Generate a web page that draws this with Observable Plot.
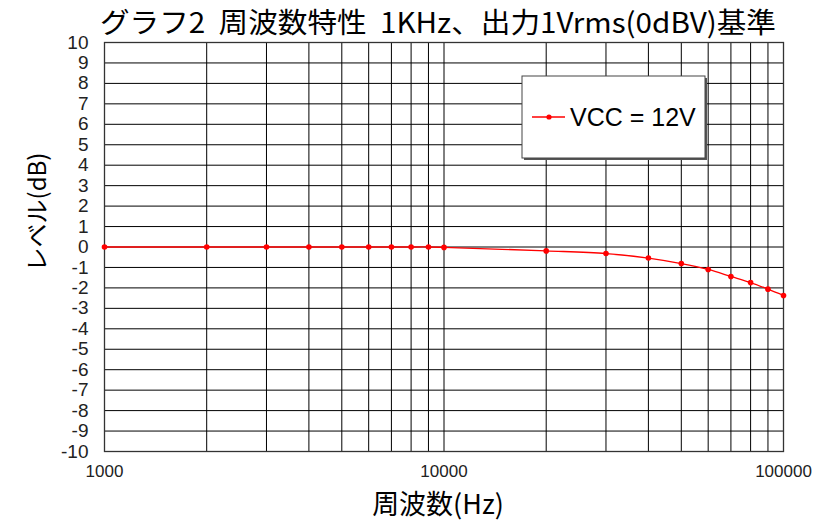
<!DOCTYPE html>
<html>
<head>
<meta charset="utf-8">
<script src="https://cdn.jsdelivr.net/npm/d3@7"></script>
<script src="https://cdn.jsdelivr.net/npm/@observablehq/plot@0.6"></script>
<style>
  html, body { margin: 0; padding: 0; background: #fff; }
  #chart { width: 819px; height: 521px; }
</style>
</head>
<body>
<div id="chart"></div>
<script>
// ---- data ----
const title = "グラフ2  周波数特性  1KHz、出力1Vrms(0dBV)基準";
const xLabel = "周波数(Hz)";
const yLabel = "レベル(dB)";
const seriesName = "VCC = 12V";
const freqs  = [1000, 2000, 3000, 4000, 5000, 6000, 7000, 8000, 9000, 10000, 20000, 30000, 40000, 50000, 60000, 70000, 80000, 90000, 100000];
const levels = [0, 0, 0, 0, 0, 0, 0, 0, 0, -0.02, -0.19, -0.32, -0.54, -0.81, -1.10, -1.44, -1.74, -2.06, -2.37];
const xTicks = [1000, 10000, 100000];
const yTicks = [-10, -9, -8, -7, -6, -5, -4, -3, -2, -1, 0, 1, 2, 3, 4, 5, 6, 7, 8, 9, 10];
const xGrid = [1000, 2000, 3000, 4000, 5000, 6000, 7000, 8000, 9000, 10000, 20000, 30000, 40000, 50000, 60000, 70000, 80000, 90000, 100000];

const data = freqs.map((f, i) => ({f, v: levels[i]}));

const numFont = "'Liberation Sans', Arial, sans-serif";
const jpFont = "'Noto Sans CJK JP', sans-serif";

const plot = Plot.plot({
  width: 819,
  height: 521,
  marginLeft: 104,
  marginRight: 36,
  marginTop: 42,
  marginBottom: 70,
  style: {fontFamily: numFont, background: "#fff"},
  x: {type: "log", domain: [1000, 100000], axis: null},
  y: {domain: [-10, 10], axis: null},
  marks: [
    Plot.ruleX(xGrid, {stroke: "#000", strokeWidth: 1}),
    Plot.ruleY(yTicks, {stroke: "#000", strokeWidth: 1}),
    Plot.frame({stroke: "#333", strokeWidth: 1.3}),
    Plot.text(xTicks, {x: d => d, text: d => String(d), frameAnchor: "bottom", dy: 25, fontSize: 17, fill: "#222", fontFamily: numFont}),
    Plot.text(yTicks, {y: d => d, text: d => String(d), frameAnchor: "left", dx: -16, textAnchor: "end", fontSize: 19, fill: "#222", fontFamily: numFont}),
    Plot.line(data, {x: "f", y: "v", stroke: "#ff0000", strokeWidth: 1.3, curve: "catmull-rom"}),
    Plot.dot(data, {x: "f", y: "v", fill: "#ff0000", r: 2.8, symbol: "circle"})
  ]
});

document.getElementById("chart").appendChild(plot);

const svg = d3.select(plot);

// title
svg.append("text")
  .attr("x", 438).attr("y", 33)
  .attr("text-anchor", "middle")
  .attr("font-family", jpFont)
  .attr("font-size", 28)
  .attr("fill", "#000")
  .attr("textLength", 676)
  .attr("lengthAdjust", "spacingAndGlyphs")
  .text(title);

// x label
svg.append("text")
  .attr("x", 438).attr("y", 514)
  .attr("text-anchor", "middle")
  .attr("font-family", jpFont)
  .attr("font-size", 27)
  .attr("fill", "#000")
  .text(xLabel);

// y label
svg.append("text")
  .attr("transform", "translate(46,212) rotate(-90)")
  .attr("text-anchor", "middle")
  .attr("font-family", jpFont)
  .attr("font-size", 24)
  .attr("fill", "#000")
  .text(yLabel);

// legend
const lg = svg.append("g");
lg.append("rect").attr("x", 524).attr("y", 78).attr("width", 183).attr("height", 82).attr("fill", "#555");
lg.append("rect").attr("x", 522).attr("y", 76).attr("width", 183).attr("height", 82)
  .attr("fill", "#fff").attr("stroke", "#444").attr("stroke-width", 1);
lg.append("line").attr("x1", 532).attr("x2", 565).attr("y1", 117).attr("y2", 117)
  .attr("stroke", "#ff0000").attr("stroke-width", 1.3);
lg.append("circle").attr("cx", 549).attr("cy", 117).attr("r", 2.6).attr("fill", "#ff0000");
lg.append("text").attr("x", 570).attr("y", 126)
  .attr("text-anchor", "start")
  .attr("font-family", numFont).attr("font-size", 25).attr("fill", "#000")
  .text(seriesName);
</script>
</body>
</html>
